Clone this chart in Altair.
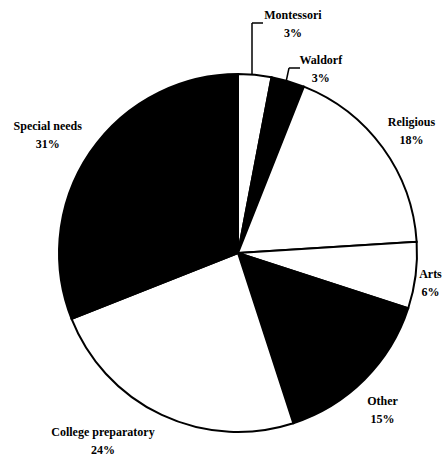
import math
import altair as alt
import pandas as pd

# ---- data ----
categories = ["Montessori", "Waldorf", "Religious", "Arts", "Other",
              "College preparatory", "Special needs"]
shares = [3, 3, 18, 6, 15, 24, 31]
percent_labels = ["3%", "3%", "18%", "6%", "15%", "24%", "31%"]
fills = ["white", "black", "white", "white", "black", "white", "black"]

# ---- label layout (distance from centre along slice middle, plus a nudge) ----
label_radius = [233, 200, 212, 195, 213, 228, 224]
label_dx = [33, 27, 2, -1, -6, -38, -5]
label_dy = [-6, -1, -6, -3, -3, -27, -1]

# leader lines for the two small slices
leader_x = [252, 252, 286, 289]
leader_y = [74, 23, 82, 68]
leader_x2 = [252, 263, 289, 300]
leader_y2 = [23, 23, 68, 68]

CX, CY, R = 238, 253, 179

# label anchor = middle angle of each slice (from the shares)
total = sum(shares)
lx, ly, cum = [], [], 0
for s, r, dx, dy in zip(shares, label_radius, label_dx, label_dy):
    mid = (cum + s / 2) / total * 2 * math.pi
    cum += s
    lx.append(CX + r * math.sin(mid) + dx)
    ly.append(CY - r * math.cos(mid) + dy)

df = pd.DataFrame({
    "idx": list(range(len(categories))),
    "category": categories,
    "share": shares,
    "fill": fills,
})
lab = pd.DataFrame({
    "label": [f"{c}\n{p}" for c, p in zip(categories, percent_labels)],
    "lx": lx,
    "ly": ly,
})
leaders = pd.DataFrame({"x": leader_x, "y": leader_y, "x2": leader_x2, "y2": leader_y2})

arcs = alt.Chart(df).mark_arc(radius=R, stroke="black", strokeWidth=2).encode(
    theta=alt.Theta("share:Q", stack=True),
    order=alt.Order("idx:Q"),
    x=alt.value(CX),
    y=alt.value(CY),
    fill=alt.Fill("fill:N", scale=None),
)

labels = alt.Chart(lab).mark_text(
    font="Liberation Serif", fontSize=12, fontWeight="bold", color="black",
    align="center", baseline="middle", lineBreak="\n", lineHeight=18,
).encode(
    x=alt.X("lx:Q", scale=None),
    y=alt.Y("ly:Q", scale=None),
    text="label:N",
)

leader_lines = alt.Chart(leaders).mark_rule(color="black", strokeWidth=1.5).encode(
    x=alt.X("x:Q", scale=None),
    y=alt.Y("y:Q", scale=None),
    x2="x2:Q",
    y2="y2:Q",
)

chart = alt.layer(arcs, labels, leader_lines).properties(
    width=446, height=458,
    autosize=alt.AutoSizeParams(type="none"),
    padding=0,
).configure_view(stroke=None)

chart.save("out.html", embed_options={"renderer": "svg", "actions": False})
